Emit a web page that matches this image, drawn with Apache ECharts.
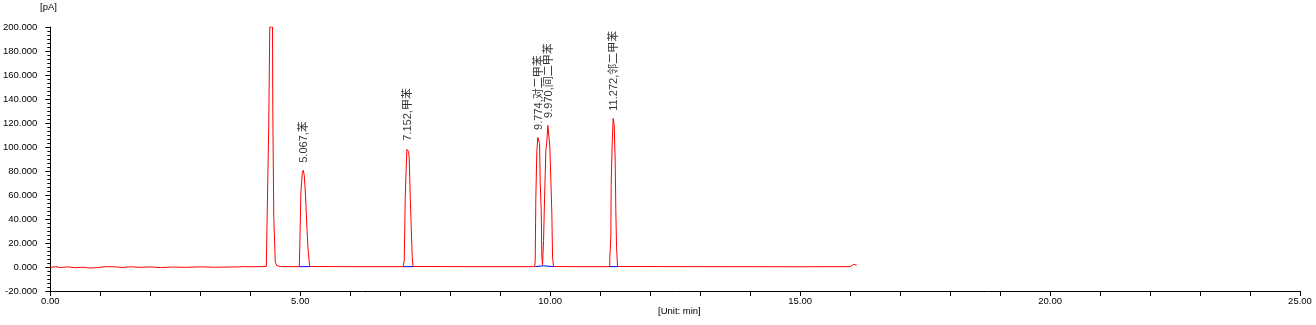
<!DOCTYPE html>
<html>
<head>
<meta charset="utf-8">
<script src="https://cdn.jsdelivr.net/npm/echarts@6/dist/echarts.min.js"></script>
<style>
html,body{margin:0;padding:0;background:#fff;}
#chart{width:1316px;height:325px;}
</style>
</head>
<body>
<div id="chart"></div>
<script>
// ---- data (time in min, signal in pA) ----
var baselineStart = [[0.0,-0.3],[0.1,0.2],[0.2,-0.4],[0.35,0.1],[0.5,-0.6],[0.65,-0.2],[0.8,-0.9],[0.95,-0.5],[1.1,0.3],[1.3,0.1],[1.45,-0.4],[1.6,0.2],[1.8,-0.3],[2.0,0.1],[2.2,-0.5],[2.45,0.0],[2.7,-0.3],[3.0,0.1],[3.3,-0.2],[3.6,0.0],[3.78,0.1],[3.82,1.5],[3.86,0.3],[4.0,0.2],[4.2,0.3]];
var solventPeak = [[4.32,0.4],[4.335,35],[4.365,36],[4.37,120],[4.385,121],[4.39,200],[4.445,200],[4.45,133],[4.465,132],[4.47,42],[4.5,4],[4.53,1.2],[4.6,0.4],[4.8,0.3],[4.98,0.3]];
var benzenePeak = [[4.987,0.3],[4.99,16.7],[5.013,62.5],[5.04,77.8],[5.06,80.6],[5.08,76.4],[5.107,58.3],[5.133,33.3],[5.153,16.7],[5.187,0.4],[6.0,0.3],[7.06,0.3]];
var toluenePeak = [[7.067,0.4],[7.08,6],[7.1,58],[7.113,75],[7.133,98],[7.153,99],[7.167,96],[7.18,91],[7.2,58],[7.22,33],[7.24,8],[7.256,0.4],[8.5,0.3],[9.69,0.3]];
var pXylenePeak = [[9.693,0.4],[9.7,5.6],[9.713,58],[9.733,97],[9.753,108],[9.773,107],[9.787,103],[9.8,71],[9.82,47],[9.833,8],[9.847,2],[9.86,1.8]];
var mXylenePeak = [[9.867,22],[9.887,57],[9.913,97],[9.933,105],[9.953,118],[9.973,118],[9.993,100],[10.013,72],[10.033,44.5],[10.047,8],[10.067,0.4],[10.5,0.3],[11.19,0.3]];
var oXylenePeak = [[11.193,8],[11.213,26],[11.22,68],[11.24,103],[11.26,123.7],[11.28,118],[11.3,89],[11.313,47],[11.327,17],[11.347,0.4],[13.0,0.3],[15.0,0.2],[16.0,0.3],[16.04,1.8],[16.07,2.2],[16.1,1.0],[16.13,1.5]];

var peakTimes   = [5.067, 7.152, 9.774, 9.970, 11.272];
var peakHeights = [80.6, 99, 108, 118, 124];
var peakNames   = ['苯', '甲苯', '对二甲苯', '间二甲苯', '邻二甲苯'];

var integrationBaselines = [
  [[4.98,0.3],[5.19,0.3]],
  [[7.06,0.3],[7.26,0.3]],
  [[9.70,0.3],[9.86,1.0],[10.07,0.3]],
  [[11.18,0.3],[11.35,0.3]]
];

var yTicks = {min:-20, max:200, interval:20};
var xTicks = {min:0, max:25, interval:1, labelEvery:5};

// ---- chart ----
var trace = [].concat(baselineStart, solventPeak, benzenePeak, toluenePeak, pXylenePeak, mXylenePeak, oXylenePeak);
var FONT = '"Liberation Sans", Arial, "Noto Sans CJK SC", sans-serif';

var series = [{
  type:'line', data: trace, symbol:'none', animation:false,
  lineStyle:{color:'#ff0000', width:1}, z:2
}];
integrationBaselines.forEach(function(seg){
  series.push({type:'line', data: seg, symbol:'none', animation:false, silent:true,
    lineStyle:{color:'#0000ff', width:1}, z:3});
});
series.push({
  type:'scatter', animation:false, silent:true, symbolSize:1,
  itemStyle:{color:'rgba(0,0,0,0)'},
  data: peakTimes.map(function(t,i){ return [t, peakHeights[i]]; }),
  label:{
    show:true, position:'top', distance:7, rotate:90, align:'left', verticalAlign:'middle',
    color:'#000', fontSize:11, fontFamily:FONT,
    formatter:function(p){ return peakTimes[p.dataIndex].toFixed(3) + ',' + peakNames[p.dataIndex]; }
  }, z:4
});

var chart = echarts.init(document.getElementById('chart'), null, {renderer:'canvas'});
chart.setOption({
  animation:false,
  backgroundColor:'#fff',
  grid:{left:50, right:16, top:27, bottom:34, containLabel:false},
  xAxis:{
    type:'value', min:xTicks.min, max:xTicks.max, interval:xTicks.interval,
    axisLine:{onZero:false, lineStyle:{color:'#000', width:1}},
    axisTick:{show:true, length:5, lineStyle:{color:'#000'}},
    splitLine:{show:false},
    axisLabel:{color:'#000', fontSize:9.5, fontFamily:FONT, margin:6, hideOverlap:false,
      showMinLabel:true, showMaxLabel:true,
      formatter:function(v){ return (Math.round(v) % xTicks.labelEvery === 0) ? v.toFixed(2) : ''; }}
  },
  yAxis:{
    type:'value', min:yTicks.min, max:yTicks.max, interval:yTicks.interval,
    axisLine:{show:true, onZero:false, lineStyle:{color:'#000', width:1}},
    axisTick:{show:true, length:5, lineStyle:{color:'#000'}},
    minorTick:{show:true, splitNumber:6, length:3, lineStyle:{color:'#000'}},
    splitLine:{show:false}, minorSplitLine:{show:false},
    axisLabel:{color:'#000', fontSize:9.5, fontFamily:FONT, margin:13,
      formatter:function(v){ return v.toFixed(3); }}
  },
  graphic:[
    {type:'text', left:40, top:3, style:{text:'[pA]', fill:'#000', font:'9.5px ' + FONT}},
    {type:'text', left:658, top:307, style:{text:'[Unit: min]', fill:'#000', font:'9.5px ' + FONT}}
  ],
  series: series
});
</script>
</body>
</html>
